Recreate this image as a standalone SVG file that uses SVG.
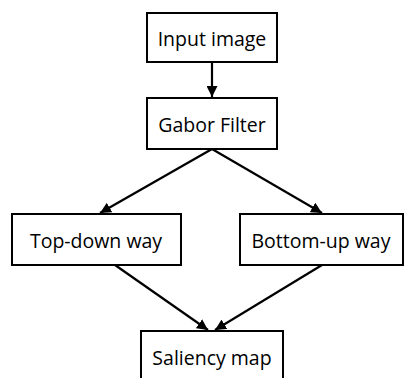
<svg xmlns="http://www.w3.org/2000/svg" width="405" height="378" viewBox="0 0 405 378">
  <style>
    .box { fill: #ffffff; stroke: #000000; stroke-width: 2; }
    .label { font-family: "Open Sans", "Liberation Sans", sans-serif; font-size: 19.5px; fill: #000000; text-anchor: middle; dominant-baseline: central; }
    .edge { fill: none; stroke: #000000; stroke-width: 2.2; marker-end: url(#arrow); }
  </style>
  <defs>
    <marker id="arrow" viewBox="0 0 10 10" refX="10" refY="5" markerWidth="5" markerHeight="5" markerUnits="strokeWidth" orient="auto">
      <path d="M0,0 L10,5 L0,10 Z" fill="#000000"/>
    </marker>
  </defs>
  <rect width="405" height="378" fill="#ffffff"/>

  <g id="connectors">
    <line class="edge" x1="212" y1="63" x2="212" y2="97"/>
    <line class="edge" x1="212" y1="149" x2="100" y2="213"/>
    <line class="edge" x1="212" y1="149" x2="322" y2="213"/>
    <line class="edge" x1="115" y1="265" x2="208" y2="330"/>
    <line class="edge" x1="322" y1="265" x2="215" y2="330"/>
  </g>

  <g id="input-image">
    <rect class="box" x="147" y="13" width="130" height="49"/>
    <text class="label" x="212" y="38">Input image</text>
  </g>
  <g id="gabor-filter">
    <rect class="box" x="147" y="98" width="130" height="51"/>
    <text class="label" x="212" y="124">Gabor Filter</text>
  </g>
  <g id="top-down-way">
    <rect class="box" x="12" y="214" width="169" height="51"/>
    <text class="label" x="96" y="240">Top-down way</text>
  </g>
  <g id="bottom-up-way">
    <rect class="box" x="240" y="214" width="163" height="51"/>
    <text class="label" x="321" y="240">Bottom-up way</text>
  </g>
  <g id="saliency-map">
    <rect class="box" x="141" y="331" width="142" height="52"/>
    <text class="label" x="212" y="357">Saliency map</text>
  </g>
</svg>
